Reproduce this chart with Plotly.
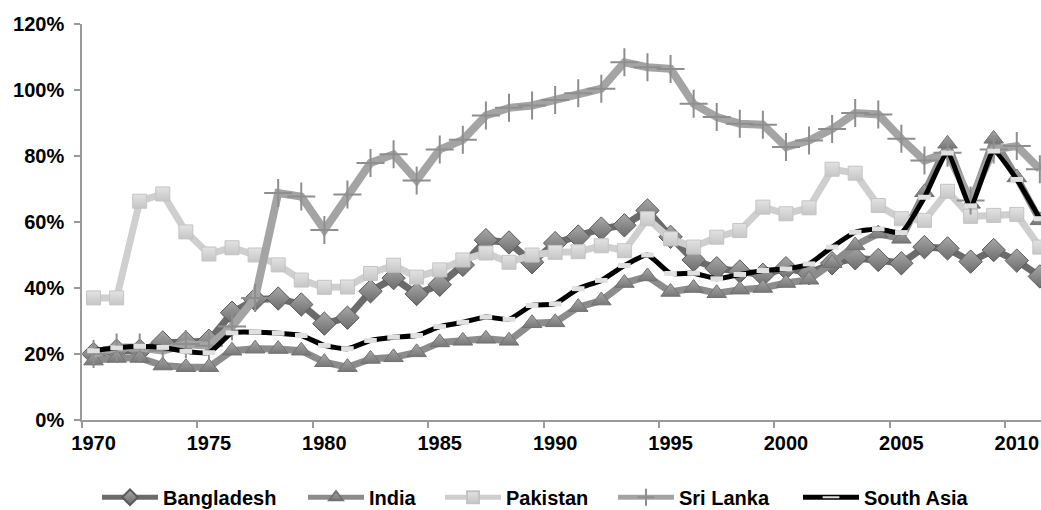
import plotly.graph_objects as go

years = list(range(1970, 2012))

bangladesh = [20, 21, 21, 23.5, 23.5, 24, 32.5, 36.5, 36.8, 35, 29.2, 31, 39, 43, 38.2, 41,
              47, 54.5, 53.8, 47.8, 53.6, 55.6, 58, 59, 63.5, 55.5, 48.5, 46, 45, 44, 46, 44.5,
              47.5, 49, 48.5, 47.5, 52.4, 52, 48, 51.5, 48.3, 43.5]
india = [18, 18.8, 18.8, 16.5, 16, 16, 21, 21.6, 21.5, 21, 17.5, 16, 18.5, 19, 20.5, 23.5,
         24, 24.6, 24, 29.3, 29.6, 34.2, 36.2, 41.5, 43.5, 38.8, 40, 38.4, 39.5, 40, 41.5, 42.5,
         47.5, 52.9, 56.5, 54.9, 69, 83.7, 65.5, 85.2, 73.5, 60.5]
pakistan = [37, 37, 66.3, 68.5, 57, 50.3, 52.2, 50, 47, 42.4, 40.2, 40.3, 44.4, 46.9, 43.3, 45.5,
            48.5, 50.6, 47.8, 50, 50.8, 51, 52.8, 51.3, 61, 54.9, 52.4, 55.4, 57.4, 64.5, 62.5, 64.3,
            76, 74.8, 65, 61, 60.5, 69.3, 61.7, 62, 62.3, 52.4]
sri_lanka = [20, 22, 22, 21, 23, 22.5, 28.3, 37, 68.8, 67.7, 57.6, 68.3, 77.9, 80.5, 72.6, 82,
             84.9, 92.3, 94.6, 95.3, 97, 99, 100.4, 108.4, 106.9, 106.4, 95.8, 91.8, 89.8, 89.5, 82.7, 84.7,
             88.2, 93, 92.6, 85.2, 78.6, 81, 66.5, 82, 83, 76]
south_asia = [21, 21.9, 22.3, 22, 20.8, 20.4, 26.4, 26.6, 26.3, 25.6, 22.6, 21.6, 24.1, 25.1, 25.6, 28.3,
              29.6, 31.2, 30.5, 34.7, 35.2, 39.8, 42.3, 46.8, 50, 44.4, 44.5, 42.8, 44.1, 45.3, 45.8, 47.3,
              52.4, 56.9, 57.9, 56.8, 67.5, 80.9, 64.9, 81.5, 72.9, 61]

x_tick_labels = [1970, 1975, 1980, 1985, 1990, 1995, 2000, 2005, 2010]
y_tick_values = [0, 20, 40, 60, 80, 100, 120]
y_tick_text = ["0%", "20%", "40%", "60%", "80%", "100%", "120%"]

FONT = "Liberation Sans, Arial, sans-serif"
AXIS_GRAY = "#9a9a9a"

fig = go.Figure()

fig.add_trace(go.Scatter(
    x=years, y=bangladesh, name="Bangladesh", mode="lines+markers", legend="legend",
    line=dict(color="#6b6b6b", width=7),
    marker=dict(symbol="diamond", size=18, color="#a8a8a8",
                gradient=dict(type="vertical", color="#6c6c6c"),
                line=dict(color="#5a5a5a", width=1)),
))
fig.add_trace(go.Scatter(
    x=years, y=india, name="India", mode="lines+markers", legend="legend2",
    line=dict(color="#8c8c8c", width=7),
    marker=dict(symbol="triangle-up", size=17, color="#a8a8a8",
                gradient=dict(type="vertical", color="#777777"),
                line=dict(color="#727272", width=1)),
))
fig.add_trace(go.Scatter(
    x=years, y=pakistan, name="Pakistan", mode="lines+markers", legend="legend3",
    line=dict(color="#cfcfcf", width=7),
    marker=dict(symbol="square", size=14, color="#e2e2e2",
                gradient=dict(type="vertical", color="#c6c6c6"),
                line=dict(color="#c4c4c4", width=1)),
))
fig.add_trace(go.Scatter(
    x=years, y=sri_lanka, name="Sri Lanka", mode="lines+markers", legend="legend4",
    line=dict(color="#a4a4a4", width=8),
    marker=dict(symbol="cross-thin", size=20, color="#8e8e8e",
                line=dict(color="#8e8e8e", width=2)),
))
fig.add_trace(go.Scatter(
    x=years, y=south_asia, name="South Asia", mode="lines+markers", legend="legend5",
    line=dict(color="#000000", width=5, shape="spline", smoothing=0.5),
    marker=dict(symbol="line-ew", size=9, color="#e0e0e0",
                line=dict(color="#e0e0e0", width=5)),
))

legend_starts = [102, 308, 445, 618, 803]
legend_font = dict(family=FONT, size=20, color="black", weight="bold")


def legend_cfg(px):
    return dict(orientation="h", xref="container", yref="container",
                x=(px - 5) / 1041, xanchor="left", y=0.025, yanchor="middle",
                font=legend_font, itemsizing="constant", itemwidth=56,
                bgcolor="rgba(0,0,0,0)")


fig.update_layout(
    width=1041, height=510,
    margin=dict(l=82, r=0, t=24, b=90),
    paper_bgcolor="white", plot_bgcolor="white",
    font=dict(family=FONT, size=20, color="black", weight="bold"),
    showlegend=True,
    legend=legend_cfg(legend_starts[0]),
    legend2=legend_cfg(legend_starts[1]),
    legend3=legend_cfg(legend_starts[2]),
    legend4=legend_cfg(legend_starts[3]),
    legend5=legend_cfg(legend_starts[4]),
    xaxis=dict(
        range=[1969.5, 2011.05], showline=True, linecolor=AXIS_GRAY, linewidth=1.5,
        showgrid=False, zeroline=False, automargin=False,
        tickmode="array", tickvals=x_tick_labels, ticktext=[str(v) for v in x_tick_labels],
        ticks="", ticklabelstandoff=4,
        tickfont=dict(family=FONT, size=20, color="black", weight="bold"),
        minor=dict(tickvals=[1969.5 + 5 * k for k in range(9)], ticks="outside",
                   ticklen=6, tickcolor=AXIS_GRAY, tickwidth=1.5, showgrid=False),
    ),
    yaxis=dict(
        range=[0, 120], showline=True, linecolor=AXIS_GRAY, linewidth=1.5,
        showgrid=False, zeroline=False, automargin=False,
        tickmode="array", tickvals=y_tick_values, ticktext=y_tick_text,
        ticks="outside", ticklen=6, tickcolor=AXIS_GRAY, tickwidth=1.5,
        ticklabelstandoff=6,
        tickfont=dict(family=FONT, size=20, color="black", weight="bold"),
    ),
)

fig.write_html("out.html", config={"displayModeBar": False},
               post_script="document.body.style.margin='0px';")
